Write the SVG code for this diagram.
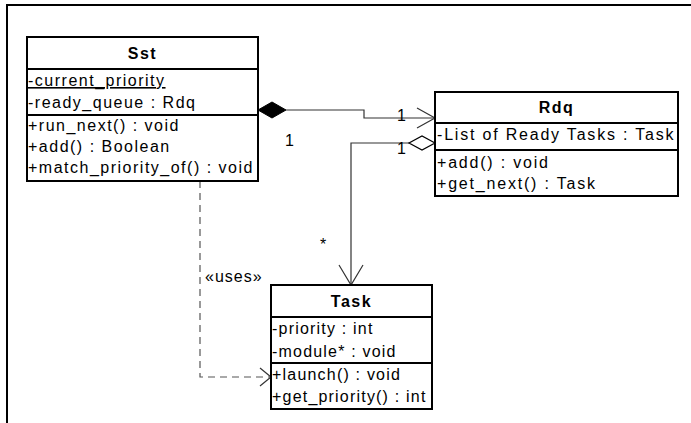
<svg xmlns="http://www.w3.org/2000/svg" width="691" height="423" viewBox="0 0 691 423">
<style>
.box{fill:#fff;stroke:#000;stroke-width:2}
.sep{stroke:#000;stroke-width:2}
.t{font-family:"Liberation Sans",Arial,sans-serif;font-size:16px;letter-spacing:1.5px;fill:#000}
.h{font-family:"Liberation Sans",Arial,sans-serif;font-size:16px;font-weight:bold;letter-spacing:1.5px;fill:#000;text-anchor:middle}
.c{fill:none;stroke:#333;stroke-width:1.2}
.d{fill:none;stroke:#555;stroke-width:1.2;stroke-dasharray:7,5}
.lbl{font-family:"Liberation Sans",Arial,sans-serif;font-size:16px;fill:#000}
#Rdq .t{letter-spacing:1.8px}
#Task .t{letter-spacing:1.2px}
</style>
<rect x="0" y="0" width="691" height="423" fill="#fff"/>
<path d="M7,430 V5 H700" fill="none" stroke="#000" stroke-width="2"/>
<g id="connectors">
  <path class="c" d="M286,110 H364 V118 H435"/>
  <polygon points="258,110 272,102 286,110 272,118" fill="#000" stroke="#000"/>
  <path class="c" d="M417,108 L435,118 L417,128"/>
  <path class="c" d="M409,143 H351 V285"/>
  <polygon points="435,143 422,136 409,143 422,150" fill="#fff" stroke="#000" stroke-width="1.2"/>
  <path class="c" d="M339,265 L351,285 L363,265"/>
  <path class="d" d="M200,181 V377 H271"/>
  <path class="c" d="M260,368 L271,377 L260,386"/>
  <text class="lbl" x="397" y="121">1</text>
  <text class="lbl" x="285" y="146">1</text>
  <text class="lbl" x="397" y="154">1</text>
  <text class="lbl" x="320" y="250">*</text>
  <text class="t" x="205" y="282" style="letter-spacing:1px">«uses»</text>
</g>
<g id="Sst">
  <rect class="box" x="27" y="37" width="231" height="144"/>
  <line class="sep" x1="27" y1="69" x2="258" y2="69"/>
  <line class="sep" x1="27" y1="115" x2="258" y2="115"/>
  <text class="h" x="142.5" y="59">Sst</text>
  <text class="t" x="28" y="86" text-decoration="underline">-current_priority</text>
  <text class="t" x="28" y="108">-ready_queue : Rdq</text>
  <text class="t" x="28" y="131">+run_next() : void</text>
  <text class="t" x="28" y="152">+add() : Boolean</text>
  <text class="t" x="28" y="173">+match_priority_of() : void</text>
</g>
<g id="Rdq">
  <rect class="box" x="435" y="92" width="243" height="104"/>
  <line class="sep" x1="435" y1="123" x2="678" y2="123"/>
  <line class="sep" x1="435" y1="150" x2="678" y2="150"/>
  <text class="h" x="556.5" y="113">Rdq</text>
  <text class="t" x="437" y="140">-List of Ready Tasks : Task</text>
  <text class="t" x="437" y="168">+add() : void</text>
  <text class="t" x="437" y="189">+get_next() : Task</text>
</g>
<g id="Task">
  <rect class="box" x="271" y="285" width="161" height="124"/>
  <line class="sep" x1="271" y1="317" x2="432" y2="317"/>
  <line class="sep" x1="271" y1="363" x2="432" y2="363"/>
  <text class="h" x="351.5" y="307">Task</text>
  <text class="t" x="272" y="334">-priority : int</text>
  <text class="t" x="272" y="357">-module* : void</text>
  <text class="t" x="272" y="380">+launch() : void</text>
  <text class="t" x="272" y="402">+get_priority() : int</text>
</g>
</svg>
